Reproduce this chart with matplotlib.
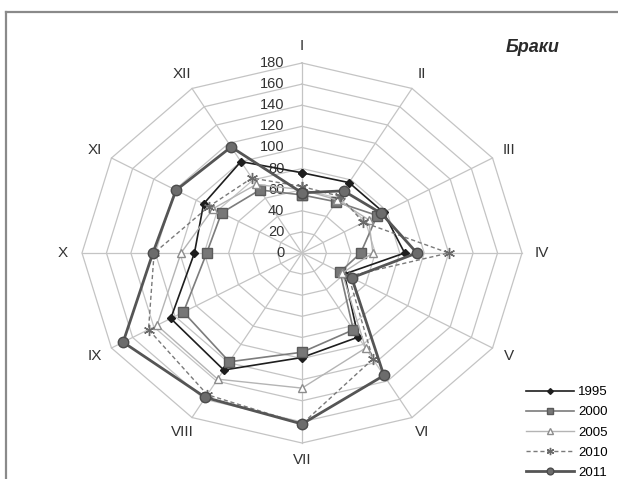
import numpy as np
import matplotlib
matplotlib.use("Agg")
import matplotlib.pyplot as plt
from matplotlib.lines import Line2D

# Months (Roman numerals) and radial scale
months = ["I", "II", "III", "IV", "V", "VI", "VII", "VIII", "IX", "X", "XI", "XII"]
ring_values = [0, 20, 40, 60, 80, 100, 120, 140, 160, 180]

# Marriages per month, by year
s1995 = [76, 77, 77, 84, 40, 92, 99, 128, 124, 88, 93, 100]
s2000 = [55, 56, 71, 48, 36, 84, 94, 119, 112, 78, 76, 69]
s2005 = [60, 58, 63, 58, 38, 104, 128, 138, 137, 99, 84, 75]
s2010 = [63, 62, 58, 120, 44, 116, 162, 155, 145, 121, 88, 82]
s2011 = [57, 68, 75, 94, 47, 134, 162, 158, 169, 122, 119, 116]
years = ["1995", "2000", "2005", "2010", "2011"]

W, H = 618, 479
CX, CY = 302.0, 253.0          # centre in pixels (from top-left)
SX, SY = 220.0 / 180, 190.0 / 180  # pixels per unit, horizontal / vertical

fig = plt.figure(figsize=(W / 100, H / 100), dpi=100)
ax = fig.add_axes([0, 0, 1, 1])
ax.set_xlim(-CX / SX, (W - CX) / SX)
ax.set_ylim((CY - H) / SY, CY / SY)
ax.axis("off")

n = len(months)
theta = np.pi / 2 - np.arange(n) * 2 * np.pi / n  # clockwise from top
cos_t, sin_t = np.cos(theta), np.sin(theta)

grid_c = "#c4c4c4"
# polygon rings
for v in ring_values[1:]:
    xs = np.append(v * cos_t, v * cos_t[0])
    ys = np.append(v * sin_t, v * sin_t[0])
    ax.plot(xs, ys, color=grid_c, lw=0.9, zorder=1)
# spokes
rmax = ring_values[-1]
for c, s in zip(cos_t, sin_t):
    ax.plot([0, rmax * c], [0, rmax * s], color=grid_c, lw=0.9, zorder=1)

# radial tick labels along the I axis
for v in ring_values:
    ax.text(-14.5, v, str(v), ha="right", va="center", fontsize=10.5,
            color="#333333", zorder=2, family="Liberation Sans")

# month labels
for lab, c, s in zip(months, cos_t, sin_t):
    r = 196
    ax.text(r * c, r * s, lab, ha="center", va="center", fontsize=11,
            color="#333333", family="Liberation Sans")

styles = [
    dict(color="#1e1e1e", lw=1.2, ls="-", marker="D", ms=4.5, mfc="#1e1e1e", mec="#1e1e1e"),
    dict(color="#7c7c7c", lw=1.2, ls="-", marker="s", ms=6.5, mfc="#777777", mec="#5a5a5a"),
    dict(color="#b4b4b4", lw=1.0, ls="-", marker="^", ms=6, mfc="white", mec="#8c8c8c"),
    dict(color="#7a7a7a", lw=1.0, ls=(0, (3, 2)), marker=(6, 2, 0), ms=8, mfc="#6a6a6a", mec="#6a6a6a"),
    dict(color="#555555", lw=2.0, ls="-", marker="o", ms=7.5, mfc="#6c6c6c", mec="#4c4c4c"),
]
series = [s1995, s2000, s2005, s2010, s2011]
handles = []
for vals, st, yr in zip(series, styles, years):
    v = np.array(vals, dtype=float)
    xs = np.append(v * cos_t, v[0] * cos_t[0])
    ys = np.append(v * sin_t, v[0] * sin_t[0])
    ax.plot(xs, ys, zorder=3, **st)
    handles.append(Line2D([], [], label=yr, **st))

ax.legend(handles=handles, loc="upper left", bbox_to_anchor=(526 / W, 1 - 386 / H),
          bbox_transform=fig.transFigure, frameon=False,
          handlelength=3.6, handletextpad=0.35, labelspacing=0.6,
          borderaxespad=0, borderpad=0, markerscale=0.65,
          prop={"family": "Liberation Sans", "size": 9.5})

# title
fig.text(533 / W, 1 - 47 / H, "Браки", ha="center", va="center", fontsize=13,
         fontweight="bold", fontstyle="italic", color="#2a2a2a", family="Liberation Sans")

# outer frame (top and left edges)
fig.add_artist(Line2D([6 / W, 1], [1 - 12 / H, 1 - 12 / H], transform=fig.transFigure,
                      color="#8a8a8a", lw=1.6))
fig.add_artist(Line2D([6 / W, 6 / W], [0, 1 - 12 / H], transform=fig.transFigure,
                      color="#8a8a8a", lw=1.6))

fig.savefig("out.png", dpi=100)
